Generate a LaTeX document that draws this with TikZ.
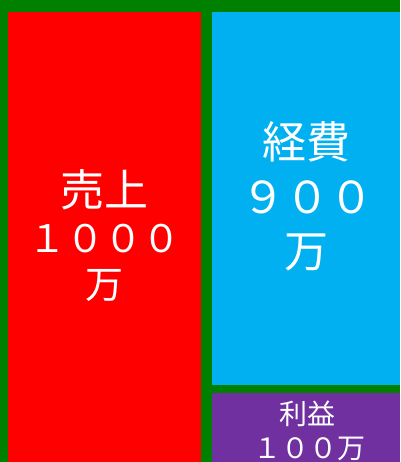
\documentclass[tikz,border=0pt]{standalone}
\usepackage{fontspec}
\newfontfamily\jp{Noto Sans CJK JP}
\definecolor{bggreen}{RGB}{0,128,0}
\definecolor{salesred}{RGB}{255,0,0}
\definecolor{costblue}{RGB}{0,176,240}
\definecolor{profitpurple}{RGB}{112,48,160}
\tikzset{
  lbl/.style={text=white, anchor=base, inner sep=0pt, font=\jp},
  big/.style={lbl, font=\jp\fontsize{38}{38}\selectfont},
  bigb/.style={lbl, font=\jp\fontsize{44}{44}\selectfont},
  small/.style={lbl, font=\jp\fontsize{28}{28}\selectfont},
}
\begin{document}
\begin{tikzpicture}[x=1pt,y=-1pt]
\useasboundingbox (0,0) rectangle (400,462);
\fill[bggreen] (0,0) rectangle (400,462);
\fill[salesred] (8,12) rectangle (200.7,462);
\fill[costblue] (212,12) rectangle (400,384.7);
\fill[profitpurple] (212,392.7) rectangle (400,462);
% sales
\node[bigb] (s1) at (104,206) {売上};
\node[big] (s2) at (104,252) {１０００};
\node[big] (s3) at (104,298) {万};
% costs
\node[bigb] (c1) at (306,159) {経費};
\node[bigb] (c2) at (307,213) {９００};
\node[bigb] (c3) at (306,267) {万};
% profit
\node[small] (p1) at (307,424) {利益};
\node[small] (p2) at (309,458) {１００万};
\end{tikzpicture}
\end{document}
